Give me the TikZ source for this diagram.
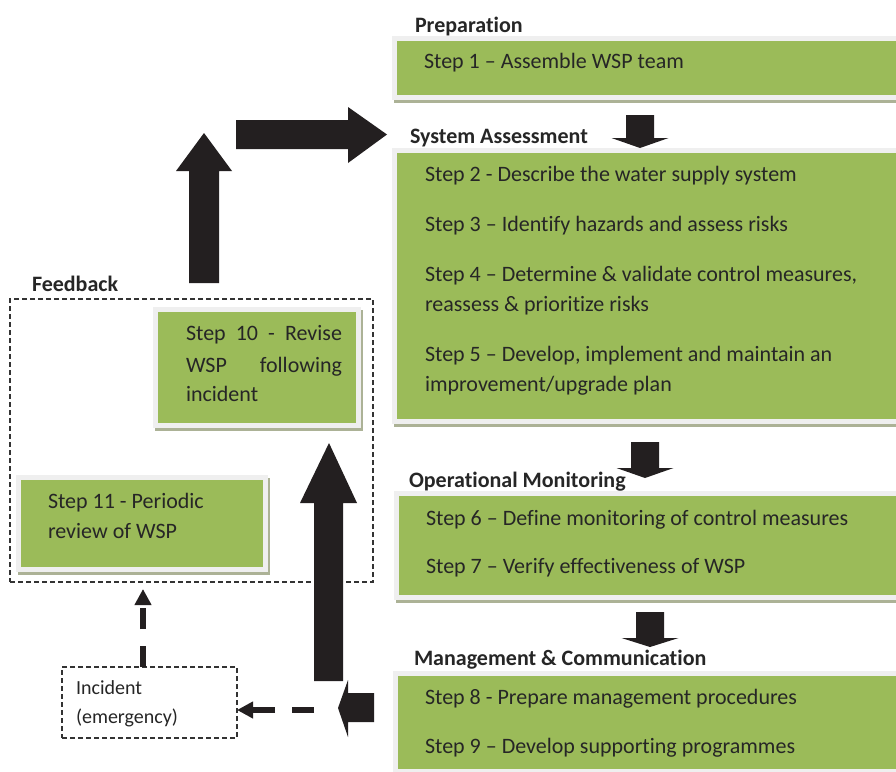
\documentclass[tikz,border=0pt]{standalone}
\usepackage{fontspec}
\setmainfont{Carlito}[Ligatures=NoCommon]
\usetikzlibrary{arrows.meta}
\definecolor{stepgreen}{RGB}{155,187,89}
\definecolor{framegray}{RGB}{239,239,239}
\definecolor{shadowc}{RGB}{172,178,150}
\definecolor{ink}{RGB}{35,31,32}
\definecolor{txt}{RGB}{38,38,38}
\definecolor{dashc}{RGB}{51,51,51}
\begin{document}
\begin{tikzpicture}[x=1pt,y=-1pt,
  panel/.style={fill=stepgreen, draw=framegray, line width=5pt, inner sep=0pt, outer sep=0pt,
    preaction={draw=shadowc, fill=shadowc, line width=5pt, transform canvas={shift={(2pt,-3pt)}}}},
  steptext/.style={anchor=base west, inner sep=0pt, outer sep=0pt, text=txt, font=\fontsize{22}{26}\selectfont},
  headtext/.style={anchor=base west, inner sep=0pt, outer sep=0pt, text=txt, font=\fontsize{22}{26}\selectfont\bfseries},
  smalltext/.style={anchor=base west, inner sep=0pt, outer sep=0pt, text=txt, font=\fontsize{20}{24}\selectfont},
  dashbox/.style={draw=dashc, line width=1.3pt, dash pattern=on 5pt off 3pt, inner sep=0pt, outer sep=0pt},
  blockarrow/.style={fill=ink},
  dasharrow/.style={draw=ink, line width=5.5pt, dash pattern=on 21pt off 17pt, -{Triangle[length=16pt,width=16pt]}}
]
\clip (0,0) rectangle (896,771);
\fill[white] (0,0) rectangle (896,771);

% green panels
\node[panel, minimum width=513pt, minimum height=59pt] (p1) at (651,68) {};
\node[panel, minimum width=513pt, minimum height=271pt] (p2) at (651,286) {};
\node[panel, minimum width=511pt, minimum height=104pt] (p3) at (652,545.5) {};
\node[panel, minimum width=512pt, minimum height=98pt] (p4) at (651.5,722.5) {};
\node[panel, minimum width=203pt, minimum height=116pt] (p10) at (257,367.5) {};
\node[panel, minimum width=247pt, minimum height=92pt] (p11) at (142,523.5) {};

% dashed boxes
\node[dashbox, minimum width=363pt, minimum height=283pt] (feedback) at (191.5,440.5) {};
\node[dashbox, minimum width=175pt, minimum height=71pt] (incident) at (149.5,702.5) {};

% headers
\node[headtext] (hprep) at (415,32) {Preparation};
\node[headtext] (hsys) at (410,143) {System Assessment};
\node[headtext] (hop) at (409,487) {Operational Monitoring};
\node[headtext] (hman) at (414,665) {Management \& Communication};
\node[headtext] (hfb) at (32,291) {Feedback};

% step texts
\node[steptext] (s1) at (424,68) {Step 1 – Assemble WSP team};
\node[steptext] (s2) at (425,181) {Step 2 - Describe the water supply system};
\node[steptext] (s3) at (425,231) {Step 3 – Identify hazards and assess risks};
\node[steptext] (s4a) at (425,281) {Step 4 – Determine \& validate control measures,};
\node[steptext] (s4b) at (425,311) {reassess \& prioritize risks};
\node[steptext] (s5a) at (425,361) {Step 5 – Develop, implement and maintain an};
\node[steptext] (s5b) at (425,391) {improvement/upgrade plan};
\node[steptext] (s6) at (426,525) {Step 6 – Define monitoring of control measures};
\node[steptext] (s7) at (426,573) {Step 7 – Verify effectiveness of WSP};
\node[steptext] (s8) at (425,704) {Step 8 - Prepare management procedures};
\node[steptext] (s9) at (425,753) {Step 9 – Develop supporting programmes};
\node[steptext] (s10a) at (186,340) {\makebox[156pt][s]{Step 10 - Revise}};
\node[steptext] (s10b) at (186,372) {\makebox[156pt][s]{WSP following}};
\node[steptext] (s10c) at (186,401) {incident};
\node[steptext] (s11a) at (48,508) {Step 11 - Periodic};
\node[steptext] (s11b) at (48,538) {review of WSP};
\node[smalltext] (inca) at (76,694) {Incident};
\node[smalltext] (incb) at (76,723) {(emergency)};

% block arrows down
\fill[blockarrow] (626,115) -- (654,115) -- (654,138) -- (668.5,138) -- (640,148) -- (611.5,138) -- (626,138) -- cycle;
\fill[blockarrow] (631,442) -- (659,442) -- (659,468) -- (673.5,468) -- (645,478) -- (616.5,468) -- (631,468) -- cycle;
\fill[blockarrow] (636,612) -- (664,612) -- (664,638) -- (678.5,638) -- (650,647) -- (621.5,638) -- (636,638) -- cycle;

% big up arrow
\fill[blockarrow] (314,681) -- (343,681) -- (343,503) -- (357,503) -- (329,443) -- (300,503) -- (314,503) -- cycle;
% top-left up arrow
\fill[blockarrow] (189,283) -- (219,283) -- (219,171) -- (232,171) -- (204,133) -- (176,171) -- (189,171) -- cycle;
% right arrow
\fill[blockarrow] (236,120) -- (348,120) -- (348,107) -- (387,134.5) -- (348,163) -- (348,149) -- (236,149) -- cycle;
% left arrow at bottom
\fill[blockarrow] (374,693) -- (348,693) -- (348,680) -- (338,708) -- (348,737) -- (348,722) -- (374,722) -- cycle;

% dashed arrows
\coordinate (incTop) at (143,667);
\coordinate (fbIn) at (143,589);
\coordinate (dashStart) at (314,710);
\coordinate (incRight) at (237,710);
\draw[dasharrow] (incTop) -- (fbIn);
\draw[dasharrow, dash pattern=on 22pt off 17pt] (dashStart) -- (incRight);
\end{tikzpicture}
\end{document}
